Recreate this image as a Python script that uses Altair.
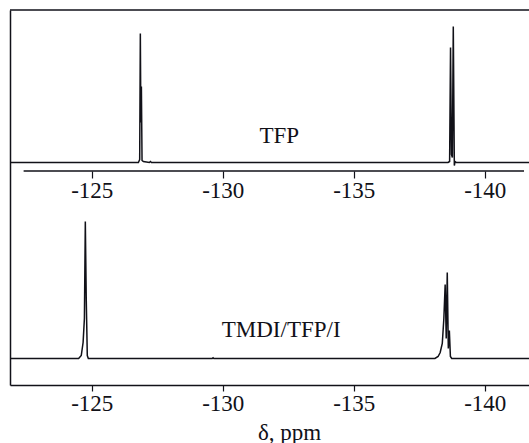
import altair as alt
import pandas as pd

INK = "#111118"
FONT = "Liberation Serif"

# ---- axis / scale values -------------------------------------------------
ppm_domain = [-141.69, -121.88]          # shown reversed (high field to the right)
level_domain = [0, 375]
tick_values = [-125, -130, -135, -140]

# ---- TFP spectrum (upper trace): shift (ppm) and intensity above baseline --
tfp_ppm = [-121.88, -126.78, -126.83, -126.855, -126.875, -126.895, -126.92,
           -126.97, -127.20, -127.24, -127.28, -138.60, -138.66, -138.695,
           -138.73, -138.765, -138.80, -138.84, -138.87, -138.92, -141.69]
tfp_int = [0, 0, 3, 129, 40, 76, 2,
           1, 0, 1, 0, 0, 1, 115,
           8, 5, 136, -3, 1, 0, 0]
tfp_baseline = 222.5

# ---- TMDI/TFP/I spectrum (lower trace) ----------------------------------
tmdi_ppm = [-121.88, -124.50, -124.60, -124.67, -124.72, -124.755, -124.79,
            -124.83, -124.87, -129.60, -129.63, -129.66, -138.10, -138.22,
            -138.30, -138.38, -138.44, -138.49, -138.53, -138.57, -138.61,
            -138.65, -138.69, -138.74, -141.69]
tmdi_int = [0, 0, 3, 16, 40, 137, 60,
            3, 0, 0, 0.8, 0, 0, 2,
            6, 15, 40, 74, 20, 86, 10,
            28, 2, 0, 0]
tmdi_baseline = 26.5

# ---- trace labels ------------------------------------------------------
label_text = ["TFP", "TMDI/TFP/I"]
label_ppm = [-132.16, -132.23]
label_level = [241.7, 48.0]

# ---- upper (inner) axis line -------------------------------------------
inner_axis_ppm = [-122.40, -141.50]
inner_axis_level = 214

rows = []
for i, (p, v) in enumerate(zip(tfp_ppm, tfp_int)):
    rows.append({"series": "TFP", "idx": i, "ppm": p, "level": tfp_baseline + v})
for i, (p, v) in enumerate(zip(tmdi_ppm, tmdi_int)):
    rows.append({"series": "TMDI/TFP/I", "idx": i, "ppm": p, "level": tmdi_baseline + v})
spec_df = pd.DataFrame(rows)

label_df = pd.DataFrame({"text": label_text, "ppm": label_ppm, "level": label_level})
inner_df = pd.DataFrame({"ppm": [inner_axis_ppm[0]], "ppm2": [inner_axis_ppm[1]],
                         "level": [inner_axis_level]})

xs = alt.Scale(domain=ppm_domain, reverse=True, nice=False, zero=False)
ys = alt.Scale(domain=level_domain, nice=False, zero=False)
y_axis = alt.Axis(title=None, ticks=False, labels=False, grid=False,
                  domainColor=INK, domainWidth=1.5)

common_axis = dict(values=tick_values, grid=False, labelFont=FONT, labelFontSize=23,
                   labelColor=INK, labelExpr="toString(datum.value)",
                   tickColor=INK, tickWidth=1.2, labelPadding=1)

spectra = alt.Chart(spec_df).mark_line(color=INK, strokeWidth=1.5).encode(
    x=alt.X("ppm:Q", scale=xs,
            axis=alt.Axis(orient="bottom", tickSize=6, domainColor=INK, domainWidth=1.5,
                          title="δ, ppm", titleFont=FONT, titleFontSize=23,
                          titleFontWeight="normal", titleColor=INK, titleX=279,
                          titleY=54, titleBaseline="alphabetic", titleAlign="center",
                          **common_axis)),
    y=alt.Y("level:Q", scale=ys, axis=y_axis),
    detail="series:N",
    order="idx:Q",
)

inner_axis = alt.Chart(inner_df).mark_rule(color=INK, strokeWidth=1.5).encode(
    x=alt.X("ppm:Q", scale=xs,
            axis=alt.Axis(orient="bottom", offset=-214, domain=False, tickSize=7,
                          title=None, **common_axis)),
    x2="ppm2:Q",
    y=alt.Y("level:Q", scale=ys, axis=y_axis),
)

labels = alt.Chart(label_df).mark_text(font=FONT, fontSize=23, color=INK,
                                       baseline="alphabetic", align="center").encode(
    x=alt.X("ppm:Q", scale=xs, axis=None),
    y=alt.Y("level:Q", scale=ys, axis=y_axis),
    text="text:N",
)

frame_top = alt.Chart(pd.DataFrame({"a": [0]})).mark_rule(color=INK, strokeWidth=1.5).encode(
    x=alt.value(0), x2=alt.value(519), y=alt.value(0)
)

chart = alt.layer(spectra, inner_axis, labels, frame_top).resolve_axis(
    x="independent"
).properties(
    width=519, height=375,
    autosize=alt.AutoSizeParams(type="none"),
    padding={"left": 10, "top": 10, "right": 0, "bottom": 58},
    background="white",
).configure_view(stroke=None)

chart.save("out.html", embed_options={"renderer": "svg", "actions": False})
